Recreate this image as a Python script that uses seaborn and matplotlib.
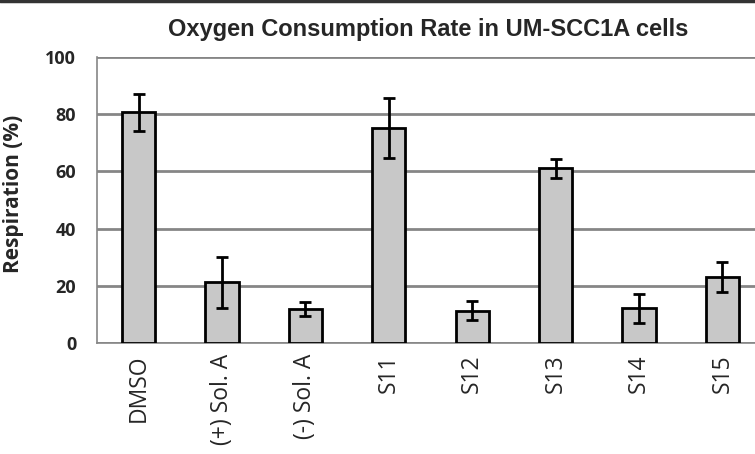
import numpy as np
import pandas as pd
import matplotlib
matplotlib.use("Agg")
import matplotlib.pyplot as plt
import seaborn as sns

# values
conditions = ["DMSO", "(+) Sol. A", "(-) Sol. A", "S11", "S12", "S13", "S14", "S15"]
respiration = [80.7, 21.2, 12.0, 75.3, 11.3, 61.1, 12.1, 23.2]
errors = [6.4, 9.0, 2.5, 10.5, 3.4, 3.4, 5.0, 5.2]
y_ticks = [0, 20, 40, 60, 80, 100]

df = pd.DataFrame({"condition": conditions, "respiration": respiration})

sns.set_style("white")
plt.rcParams["font.family"] = ["Open Sans", "DejaVu Sans"]

fig = plt.figure(figsize=(7.55, 4.54), dpi=100)
ax = fig.add_axes([97 / 755, 111 / 454, 667 / 755, 286 / 454])

sns.barplot(data=df, x="condition", y="respiration", color="#c8c8c8",
            edgecolor="black", linewidth=2, width=0.4, saturation=1,
            errorbar=None, ax=ax, zorder=3)
ax.errorbar(np.arange(len(conditions)), respiration, yerr=errors, fmt="none",
            ecolor="black", elinewidth=2, capsize=4.5, capthick=2, zorder=4)

ax.set_ylim(0, 100)
ax.set_xlim(-0.5, len(conditions) - 0.5)
ax.set_yticks(y_ticks)
ax.set_yticklabels([str(t) for t in y_ticks], fontsize=13, fontweight="bold")
ax.yaxis.grid(True, color="#868686", linewidth=2, zorder=0)
ax.set_axisbelow(True)

# category ticks sit between the bars, labels at the bar centres
ax.set_xticks(np.arange(len(conditions)))
ax.set_xticklabels(conditions, rotation=90, fontsize=16.5)
ax.set_xticks(np.arange(len(conditions) + 1) - 0.5, minor=True)
ax.tick_params(axis="x", which="major", length=0, pad=8)
ax.tick_params(axis="x", which="minor", length=6, width=1.2, color="#868686",
               direction="out")
ax.tick_params(axis="y", length=7, width=1.2, color="#868686", direction="out",
               pad=8)

for side in ["top", "right"]:
    ax.spines[side].set_visible(False)
for side in ["left", "bottom"]:
    ax.spines[side].set_color("#868686")
    ax.spines[side].set_linewidth(1.2)

ax.set_xlabel("")
ax.set_ylabel("Respiration (%)", fontsize=15, fontweight="bold")
ax.yaxis.set_label_coords(-0.109, 0.52)

fig.text(0.567, 0.936, "Oxygen Consumption Rate in UM-SCC1A cells",
         ha="center", va="center", fontsize=17, fontweight="bold",
         family=["Liberation Sans", "DejaVu Sans"])

# dark frame edge along the top of the image
fig.add_artist(plt.Line2D([0, 1], [0.997, 0.997], color="#333333",
                          linewidth=2.5, transform=fig.transFigure))

fig.savefig("out.png", dpi=100)
